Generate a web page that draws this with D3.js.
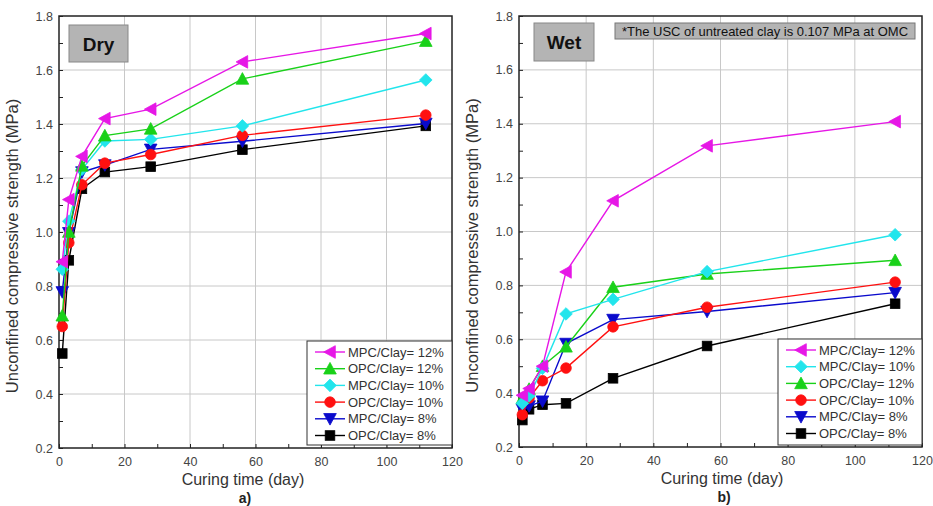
<!DOCTYPE html>
<html>
<head>
<meta charset="utf-8">
<script src="https://cdn.jsdelivr.net/npm/d3@7"></script>
<style>
  body { margin: 0; background: #fff; }
  svg { font-family: Arial, "Liberation Sans", sans-serif; }
</style>
</head>
<body>
<svg id="chart" width="933" height="506"></svg>
<script>
// Curing days (shared x values)
const days = [1, 3, 7, 14, 28, 56, 112];
const xTicks = [0, 20, 40, 60, 80, 100, 120];
const yTicks = [0.2, 0.4, 0.6, 0.8, 1.0, 1.2, 1.4, 1.6, 1.8];

// Dry curing
const dryMPC12 = [0.89, 1.12, 1.28, 1.42, 1.455, 1.63, 1.735];
const dryOPC12 = [0.69, 1.00, 1.245, 1.357, 1.382, 1.567, 1.707];
const dryMPC10 = [0.862, 1.04, 1.232, 1.337, 1.343, 1.393, 1.563];
const dryOPC10 = [0.65, 0.96, 1.175, 1.255, 1.287, 1.358, 1.433];
const dryMPC8  = [0.778, 0.997, 1.222, 1.248, 1.306, 1.336, 1.402];
const dryOPC8  = [0.55, 0.895, 1.16, 1.222, 1.242, 1.305, 1.393];

// Wet curing
const wetMPC12 = [0.392, 0.417, 0.50, 0.85, 1.114, 1.318, 1.408];
const wetMPC10 = [0.362, 0.39, 0.492, 0.694, 0.748, 0.851, 0.988];
const wetOPC12 = [0.38, 0.415, 0.50, 0.572, 0.793, 0.842, 0.893];
const wetOPC10 = [0.32, 0.382, 0.446, 0.493, 0.646, 0.719, 0.812];
const wetMPC8  = [0.34, 0.352, 0.37, 0.584, 0.673, 0.703, 0.773];
const wetOPC8  = [0.30, 0.34, 0.357, 0.362, 0.455, 0.575, 0.732];

const style = {
  'MPC/Clay= 12%': { color: '#e617e6', symbol: 'tri-left' },
  'OPC/Clay= 12%': { color: '#19d119', symbol: 'tri-up' },
  'MPC/Clay= 10%': { color: '#22e5ec', symbol: 'diamond' },
  'OPC/Clay= 10%': { color: '#ff1010', symbol: 'circle' },
  'MPC/Clay= 8%':  { color: '#0a0acc', symbol: 'tri-down' },
  'OPC/Clay= 8%':  { color: '#000000', symbol: 'square' }
};

const panels = [
  {
    box: { left: 59, right: 452, top: 16, bottom: 448 },
    tag: 'Dry', tagBox: [69, 25, 59, 37], sub: 'a)', titleX: 243,
    legendBox: [307, 341, 145, 104],
    series: [
      ['MPC/Clay= 12%', dryMPC12], ['OPC/Clay= 12%', dryOPC12],
      ['MPC/Clay= 10%', dryMPC10], ['OPC/Clay= 10%', dryOPC10],
      ['MPC/Clay= 8%', dryMPC8], ['OPC/Clay= 8%', dryOPC8]
    ]
  },
  {
    box: { left: 519, right: 922, top: 16, bottom: 447 },
    tag: 'Wet', tagBox: [534, 23, 60, 38], sub: 'b)', titleX: 722,
    note: '*The USC of untreated clay is 0.107 MPa at OMC',
    legendBox: [778, 339, 144, 106],
    series: [
      ['MPC/Clay= 12%', wetMPC12], ['MPC/Clay= 10%', wetMPC10],
      ['OPC/Clay= 12%', wetOPC12], ['OPC/Clay= 10%', wetOPC10],
      ['MPC/Clay= 8%', wetMPC8], ['OPC/Clay= 8%', wetOPC8]
    ]
  }
];

const svg = d3.select('#chart');

function marker(g, symbol, cx, cy, color) {
  const s = 5.3;
  let el;
  if (symbol === 'circle') {
    el = g.append('circle').attr('cx', cx).attr('cy', cy).attr('r', s);
  } else if (symbol === 'square') {
    el = g.append('rect').attr('x', cx - s + 0.5).attr('y', cy - s + 0.5)
      .attr('width', 2 * s - 1).attr('height', 2 * s - 1);
  } else {
    let pts;
    if (symbol === 'diamond') pts = [[0, -s - 1], [s + 1, 0], [0, s + 1], [-s - 1, 0]];
    if (symbol === 'tri-up') pts = [[0, -s - 1], [s + 1, s], [-s - 1, s]];
    if (symbol === 'tri-down') pts = [[0, s + 1], [s + 1, -s], [-s - 1, -s]];
    if (symbol === 'tri-left') pts = [[-s - 1, 0], [s, -s - 1], [s, s + 1]];
    el = g.append('polygon').attr('points', pts.map(p => [cx + p[0], cy + p[1]].join(',')).join(' '));
  }
  el.attr('fill', color).attr('stroke', color).attr('stroke-width', 0.8);
}

panels.forEach(p => {
  const b = p.box;
  const x = d3.scaleLinear().domain([0, 120]).range([b.left, b.right]);
  const y = d3.scaleLinear().domain([0.2, 1.8]).range([b.bottom, b.top]);
  const g = svg.append('g');

  // grid
  g.append('g').selectAll('line').data(xTicks.slice(1, -1)).join('line')
    .attr('x1', d => x(d)).attr('x2', d => x(d)).attr('y1', b.top).attr('y2', b.bottom)
    .attr('stroke', '#c8c8c8').attr('stroke-width', 1);
  g.append('g').selectAll('line').data(yTicks.slice(1, -1)).join('line')
    .attr('y1', d => y(d)).attr('y2', d => y(d)).attr('x1', b.left).attr('x2', b.right)
    .attr('stroke', '#c8c8c8').attr('stroke-width', 1);

  // axes with inward ticks
  const xAxis = d3.axisBottom(x).tickValues(d3.range(0, 121, 10))
    .tickSize(-4).tickFormat(d => xTicks.includes(d) ? d : '');
  const yAxis = d3.axisLeft(y).tickValues(d3.range(0.2, 1.81, 0.1).map(v => +v.toFixed(1)))
    .tickSize(-4).tickFormat(d => (Math.round(d * 10) % 2 === 0) ? d.toFixed(1) : '');

  const gx = g.append('g').attr('transform', `translate(0,${b.bottom})`).call(xAxis);
  const gy = g.append('g').attr('transform', `translate(${b.left},0)`).call(yAxis);
  [gx, gy].forEach(a => {
    a.select('.domain').remove();
    a.selectAll('line').attr('stroke', '#222');
    a.selectAll('text').attr('font-size', 12.5).attr('fill', '#444')
      .attr('font-family', 'Arial, "Liberation Sans", sans-serif');
  });
  gx.selectAll('text').attr('dy', '1.2em');
  gy.selectAll('text').attr('dx', '-3');

  // frame
  g.append('rect').attr('x', b.left).attr('y', b.top)
    .attr('width', b.right - b.left).attr('height', b.bottom - b.top)
    .attr('fill', 'none').attr('stroke', '#222').attr('stroke-width', 1.5);

  // series
  const line = d3.line().x((d, i) => x(days[i])).y(d => y(d));
  p.series.slice().reverse().forEach(([name, vals]) => {
    const st = style[name];
    g.append('path').datum(vals).attr('d', line)
      .attr('fill', 'none').attr('stroke', st.color).attr('stroke-width', 1.4);
    vals.forEach((v, i) => marker(g, st.symbol, x(days[i]), y(v), st.color));
  });

  // legend
  const [lx, ly, lw, lh] = p.legendBox;
  g.append('rect').attr('x', lx).attr('y', ly).attr('width', lw).attr('height', lh)
    .attr('fill', '#fff').attr('stroke', '#333').attr('stroke-width', 1);
  p.series.forEach(([name], i) => {
    const st = style[name];
    const yy = ly + 11 + i * 16.7;
    g.append('line').attr('x1', lx + 8).attr('x2', lx + 38).attr('y1', yy).attr('y2', yy)
      .attr('stroke', st.color).attr('stroke-width', 1.4);
    marker(g, st.symbol, lx + 23, yy, st.color);
    g.append('text').attr('x', lx + 41).attr('y', yy + 4.5).text(name)
      .attr('font-size', 13).attr('fill', '#333');
  });

  // tag box
  const [tx, ty, tw, th] = p.tagBox;
  g.append('rect').attr('x', tx).attr('y', ty).attr('width', tw).attr('height', th)
    .attr('fill', '#b4b4b4').attr('stroke', '#888').attr('stroke-width', 1);
  g.append('text').attr('x', tx + tw / 2).attr('y', ty + th / 2 + 7)
    .attr('text-anchor', 'middle').attr('font-size', 19).attr('font-weight', 'bold')
    .attr('fill', '#111').text(p.tag);

  if (p.note) {
    g.append('rect').attr('x', 615).attr('y', 23).attr('width', 300).attr('height', 16)
      .attr('fill', '#b4b4b4').attr('stroke', '#777').attr('stroke-width', 1);
    g.append('text').attr('x', 765).attr('y', 36).attr('text-anchor', 'middle')
      .attr('font-size', 13).attr('fill', '#111').text(p.note);
  }

  // axis titles
  g.append('text').attr('x', p.titleX).attr('y', b.bottom + 37).attr('text-anchor', 'middle')
    .attr('font-size', 16).attr('fill', '#333').text('Curing time (day)');
  g.append('text').attr('x', p.titleX + 2).attr('y', b.bottom + 55).attr('text-anchor', 'middle')
    .attr('font-size', 14).attr('font-weight', 'bold').attr('fill', '#222').text(p.sub);
  const ycx = b.left - 41, ycy = (b.top + b.bottom) / 2 + 14;
  g.append('text').attr('transform', `translate(${ycx},${ycy}) rotate(-90)`)
    .attr('text-anchor', 'middle').attr('font-size', 16.5).attr('fill', '#333')
    .text('Unconfined compressive strength (MPa)');
});
</script>
</body>
</html>
